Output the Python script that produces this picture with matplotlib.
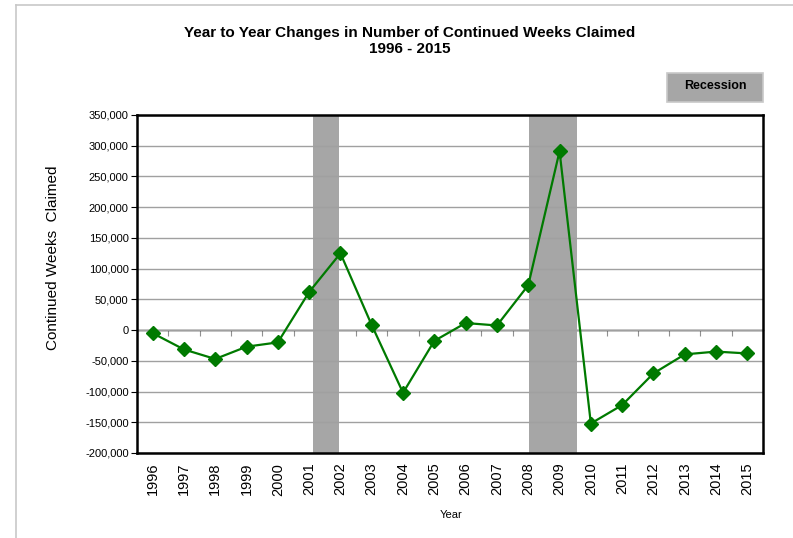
import matplotlib
matplotlib.use('Agg')
import matplotlib.pyplot as plt
from matplotlib.lines import Line2D
from matplotlib.patches import Rectangle
from matplotlib.ticker import FuncFormatter

plt.rcParams['font.family'] = ['Liberation Sans Narrow', 'Liberation Sans', 'DejaVu Sans']

years = list(range(1996, 2016))
changes = [-5000, -31500, -47000, -27000, -20000, 62000, 125000, 8000, -102000, -17500,
           11500, 7500, 73000, 291000, -152000, -122000, -70500, -39500, -35000, -38000]
# recession periods (in year units on the category axis)
recessions = [(2001.13, 2001.94), (2008.03, 2009.57)]

fig = plt.figure(figsize=(7.93, 5.38), dpi=100)
ax = fig.add_axes([137/793, 85/538, 626/793, 338/538])

for start, end in recessions:
    ax.axvspan(start, end, color='#A6A6A6', lw=0, zorder=0.2)

ax.set_axisbelow(True)
ax.grid(axis='y', color='#A0A0A0', lw=1)
ax.plot(years, changes, color='#007A00', lw=1.6, marker='D', markersize=7.5, zorder=3)

ax.set_xlim(1995.5, 2015.5)
ax.set_ylim(-200000, 350000)
ax.set_yticks(range(-200000, 350001, 50000))
ax.yaxis.set_major_formatter(FuncFormatter(lambda v, p: f'{int(v):,}'))
ax.tick_params(axis='y', labelsize=8, length=4, width=0.8, pad=2)
ax.set_xticks(years)
ax.set_xticklabels([str(y) for y in years], rotation=90, fontsize=10.5)
ax.tick_params(axis='x', length=0, pad=7)
for s in ax.spines.values():
    s.set_linewidth(1.8)
    s.set_color('black')

# zero line with category-boundary ticks
zero = ax.secondary_xaxis(200/550)
zero.set_xticks([y + 0.5 for y in years[:-1]])
zero.tick_params(axis='x', direction='out', length=4, color='#909090', labelbottom=False)
zero.spines['bottom'].set_linewidth(1.0)
zero.spines['bottom'].set_color('black')

fig.text(53/793, 1 - 258/538, 'Continued Weeks  Claimed', rotation=90,
         ha='center', va='center', fontsize=11)
fig.text(451/793, 1 - 515/538, 'Year', ha='center', va='center', fontsize=8)

fig.text(0.517, 0.924, 'Year to Year Changes in Number of Continued Weeks Claimed\n1996 - 2015',
         ha='center', va='center', fontsize=11, fontweight='bold', linespacing=1.25)

# recession legend box
fig.patches.append(Rectangle((667/793, 1 - 102/538), 96/793, 29/538, transform=fig.transFigure,
                             facecolor='#A6A6A6', edgecolor='#C8C8C8', lw=1.2))
fig.text(715/793, 1 - 86/538, 'Recession', ha='center', va='center', fontsize=9, fontweight='bold')

# outer frame lines
fig.add_artist(Line2D([16/793, 1], [1 - 5/538, 1 - 5/538], color='#C8C8C8', lw=1.2))
fig.add_artist(Line2D([16/793, 16/793], [0, 1 - 5/538], color='#C8C8C8', lw=1.2))

fig.savefig('out.png', dpi=100)
